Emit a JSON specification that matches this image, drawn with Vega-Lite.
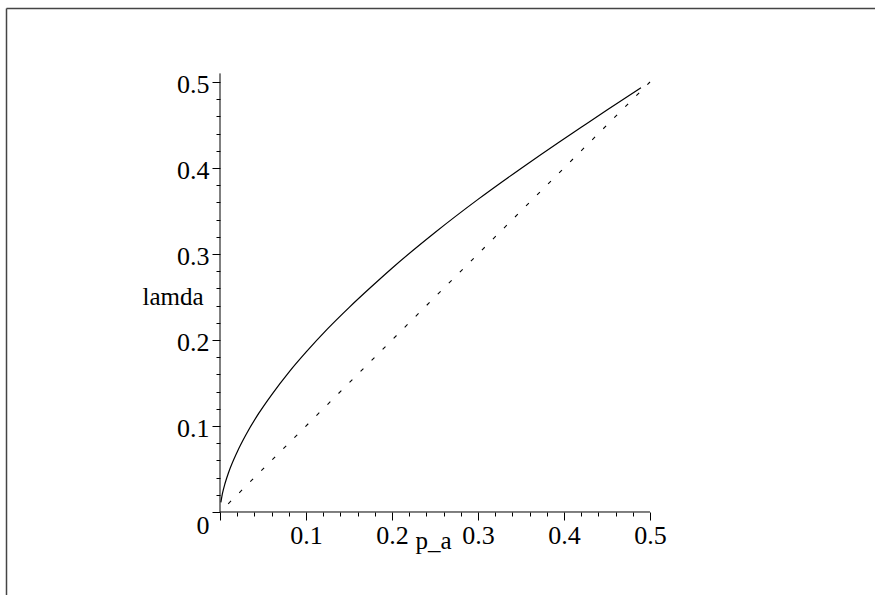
{
  "$schema": "https://vega.github.io/schema/vega-lite/v6.json",
  "width": 869,
  "height": 587,
  "autosize": {"type": "none"},
  "padding": {"left": 6, "top": 8, "right": 0, "bottom": 0},
  "background": "white",
  "config": {
    "view": {"stroke": null},
    "font": "Liberation Serif"
  },
  "datasets": {
    "curve": [
      {"p": 0.001, "lamda": 0.0112},
      {"p": 0.003, "lamda": 0.0221},
      {"p": 0.006, "lamda": 0.0337},
      {"p": 0.01, "lamda": 0.046},
      {"p": 0.02, "lamda": 0.0699},
      {"p": 0.03, "lamda": 0.0895},
      {"p": 0.045, "lamda": 0.1146},
      {"p": 0.06, "lamda": 0.1363},
      {"p": 0.08, "lamda": 0.1624},
      {"p": 0.1, "lamda": 0.1858},
      {"p": 0.125, "lamda": 0.2129},
      {"p": 0.15, "lamda": 0.2377},
      {"p": 0.175, "lamda": 0.261},
      {"p": 0.2, "lamda": 0.2835},
      {"p": 0.25, "lamda": 0.325},
      {"p": 0.3, "lamda": 0.3635},
      {"p": 0.35, "lamda": 0.3995},
      {"p": 0.395, "lamda": 0.4306},
      {"p": 0.42, "lamda": 0.4473},
      {"p": 0.45, "lamda": 0.4673},
      {"p": 0.4895, "lamda": 0.4934}
    ],
    "diag": [
      {"p": 0, "lamda": 0},
      {"p": 0.5, "lamda": 0.5}
    ],
    "axes": [
      {"p": 0, "p2": 0.5, "lamda": 0, "lamda2": 0},
      {"p": 0, "p2": 0, "lamda": 0, "lamda2": 0.51}
    ]
  },
  "encoding": {
    "x": {
      "field": "p",
      "type": "quantitative",
      "scale": {"domain": [-0.24884, 0.76163], "nice": false, "zero": false},
      "axis": {
        "title": "p_a",
        "orient": "bottom",
        "offset": -83,
        "values": [-0.24884, 0, 0.02, 0.04, 0.06, 0.08, 0.1, 0.12, 0.14, 0.16, 0.18, 0.2, 0.22, 0.24, 0.26, 0.28, 0.3, 0.32, 0.34, 0.36, 0.38, 0.4, 0.42, 0.44, 0.46, 0.48, 0.5],
        "domain": false,
        "grid": true,
        "gridColor": "#444444",
        "gridWidth": 1.5,
        "gridOpacity": {"condition": {"test": "datum.value < -0.2", "value": 1}, "value": 0},
        "tickColor": "black",
        "tickWidth": 1,
        "tickOpacity": {"condition": {"test": "datum.value < -0.2", "value": 0}, "value": 1},
        "tickSize": {"condition": {"test": "abs(datum.value*10-round(datum.value*10))<0.001", "value": 8}, "value": 4},
        "labelExpr": "datum.value > 0 && abs(datum.value*10-round(datum.value*10))<0.001 ? format(datum.value, '.1f') : ''",
        "labelFont": "Liberation Serif",
        "labelFontSize": 26,
        "labelColor": "black",
        "labelPadding": 2,
        "labelFlush": false,
        "labelOverlap": false,
        "titleFont": "Liberation Serif",
        "titleFontSize": 25,
        "titleFontWeight": "normal",
        "titleColor": "black",
        "titleX": 427,
        "titleY": 36,
        "titleAlign": "center",
        "titleBaseline": "alphabetic"
      }
    },
    "y": {
      "field": "lamda",
      "type": "quantitative",
      "scale": {"domain": [-0.096512, 0.586047], "nice": false, "zero": false},
      "axis": {
        "title": "lamda",
        "orient": "left",
        "offset": -214,
        "values": [0, 0.02, 0.04, 0.06, 0.08, 0.1, 0.12, 0.14, 0.16, 0.18, 0.2, 0.22, 0.24, 0.26, 0.28, 0.3, 0.32, 0.34, 0.36, 0.38, 0.4, 0.42, 0.44, 0.46, 0.48, 0.5, 0.586047],
        "domain": false,
        "grid": true,
        "gridColor": "#444444",
        "gridWidth": 1.5,
        "gridOpacity": {"condition": {"test": "datum.value > 0.55", "value": 1}, "value": 0},
        "tickColor": "black",
        "tickWidth": 1,
        "tickOpacity": {"condition": {"test": "datum.value > 0.55", "value": 0}, "value": 1},
        "tickSize": {"condition": {"test": "abs(datum.value*10-round(datum.value*10))<0.001", "value": 8}, "value": 4},
        "labelExpr": "datum.value < 0.55 && abs(datum.value*10-round(datum.value*10))<0.001 ? (datum.value == 0 ? '0' : format(datum.value, '.1f')) : ''",
        "labelOffset": {"condition": {"test": "datum.value == 0", "value": 14}, "value": 2.5},
        "labelFont": "Liberation Serif",
        "labelFontSize": 26,
        "labelColor": "black",
        "labelPadding": 3,
        "labelFlush": false,
        "labelOverlap": false,
        "titleFont": "Liberation Serif",
        "titleFontSize": 25,
        "titleFontWeight": "normal",
        "titleColor": "black",
        "titleAngle": 0,
        "titleX": -47.5,
        "titleY": 296,
        "titleAlign": "center",
        "titleBaseline": "alphabetic"
      }
    }
  },
  "layer": [
    {
      "data": {"name": "axes"},
      "mark": {"type": "rule", "color": "black", "strokeWidth": 1},
      "encoding": {
        "x2": {"field": "p2"},
        "y2": {"field": "lamda2"}
      }
    },
    {
      "data": {"name": "diag"},
      "mark": {"type": "line", "color": "black", "strokeWidth": 1.1, "strokeDash": [4, 11.6], "strokeDashOffset": 4}
    },
    {
      "data": {"name": "curve"},
      "mark": {"type": "line", "color": "black", "strokeWidth": 1.2, "interpolate": "monotone"}
    }
  ]
}
